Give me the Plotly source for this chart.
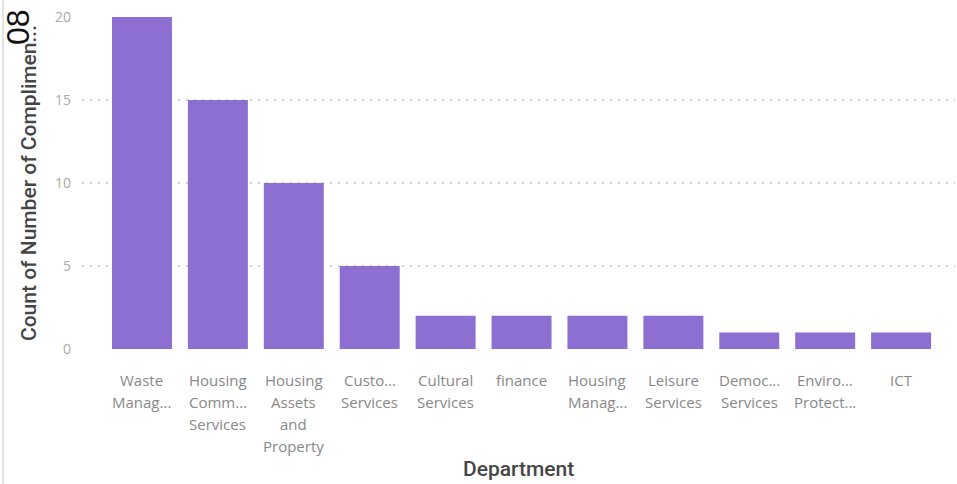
import plotly.graph_objects as go

# Compliments counted per department
departments = [
    "Waste\nManag...",
    "Housing\nComm...\nServices",
    "Housing\nAssets\nand\nProperty",
    "Custo...\nServices",
    "Cultural\nServices",
    "finance",
    "Housing\nManag...",
    "Leisure\nServices",
    "Democ...\nServices",
    "Enviro...\nProtect...",
    "ICT",
]
compliments = [20, 15, 10, 5, 2, 2, 2, 2, 1, 1, 1]
y_ticks = [0, 5, 10, 15, 20]

bar_color = "#8C6FD0"
label_color = "#888888"
title_color = "#454545"

fig = go.Figure(
    go.Bar(
        x=list(range(len(departments))),
        y=compliments,
        marker=dict(color=bar_color, line=dict(width=0)),
        hoverinfo="skip",
    )
)

# Wrapped category labels, one annotation per line
annotations = []
line_step = 22
for i, label in enumerate(departments):
    for j, line in enumerate(label.split("\n")):
        annotations.append(
            dict(
                x=i, xref="x", y=0, yref="paper",
                text=line, showarrow=False,
                xanchor="center", yanchor="middle",
                yshift=-31 - j * line_step,
                font=dict(family="Open Sans", size=15, color=label_color),
            )
        )

# Category axis title
annotations.append(
    dict(
        x=0.5, xref="paper", y=0, yref="paper",
        text="Department", showarrow=False,
        xanchor="center", yanchor="middle", yshift=-120,
        font=dict(family="Roboto", size=21, color=title_color, weight=500),
    )
)

# Page number stamped over the corner
annotations.append(
    dict(
        x=0, xref="paper", y=1, yref="paper",
        text="08", showarrow=False, textangle=-90,
        xanchor="center", yanchor="middle",
        xshift=-64, yshift=-10,
        font=dict(family="Liberation Sans", size=32, color="#111111"),
    )
)

fig.update_layout(
    width=957,
    height=484,
    margin=dict(l=82, r=2, t=17, b=135),
    paper_bgcolor="white",
    plot_bgcolor="white",
    bargap=0.21,
    showlegend=False,
    annotations=annotations,
    xaxis=dict(
        range=[-0.79, 10.71],
        showticklabels=False,
        showgrid=False,
        zeroline=False,
        showline=False,
        fixedrange=True,
    ),
    yaxis=dict(
        range=[0, 20],
        tickvals=y_ticks,
        showgrid=True,
        gridcolor="#cfcfcf",
        griddash="2px,6px",
        gridwidth=1.5,
        zeroline=False,
        showline=False,
        ticklabelstandoff=10,
        tickfont=dict(family="Open Sans", size=14, color="#ababab"),
        title=dict(
            text="Count of Number of Complimen...",
            standoff=12,
            font=dict(family="Roboto", size=21, color=title_color, weight=500),
        ),
    ),
    shapes=[
        dict(
            type="line", xref="paper", yref="paper",
            x0=-0.0905, x1=-0.0905, y0=-1, y1=1.2,
            line=dict(color="#e3e3e3", width=2),
        )
    ],
)

fig.write_html("out.html")
